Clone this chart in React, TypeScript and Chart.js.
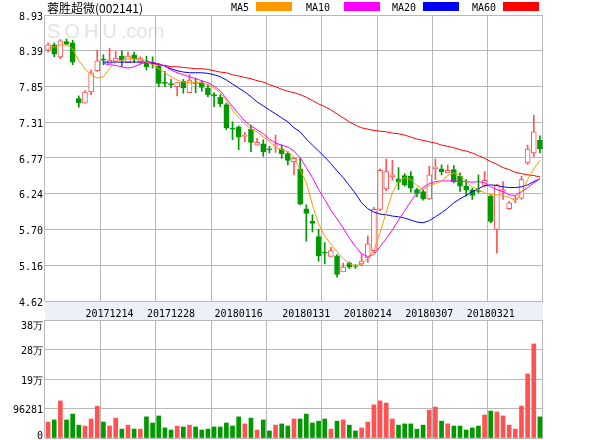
import React, { useEffect, useRef } from 'react';
import { Chart, registerables } from 'chart.js';

Chart.register(...registerables);

const TITLE = '蓉胜超微(002141)';
const WATERMARK = 'SOHU.com';

const DATES = [
  '20171130', '20171201', '20171204', '20171205', '20171206', '20171207', '20171208', '20171211', '20171212', '20171213',
  '20171214', '20171215', '20171218', '20171219', '20171220', '20171221', '20171222', '20171225', '20171226', '20171227',
  '20171228', '20180102', '20180103', '20180104', '20180105', '20180108', '20180109', '20180110', '20180111', '20180112',
  '20180115', '20180116', '20180117', '20180118', '20180119', '20180122', '20180123', '20180124', '20180125', '20180126',
  '20180129', '20180130', '20180131', '20180201', '20180202', '20180205', '20180206', '20180207', '20180208', '20180209',
  '20180212', '20180213', '20180214', '20180222', '20180223', '20180226', '20180227', '20180228', '20180301', '20180302',
  '20180305', '20180306', '20180307', '20180308', '20180309', '20180312', '20180313', '20180314', '20180315', '20180316',
  '20180319', '20180320', '20180321', '20180322', '20180323', '20180326', '20180327', '20180328', '20180329', '20180330',
  '20180402',
];

const DATE_TICKS = ['20171214', '20171228', '20180116', '20180131', '20180214', '20180307', '20180321'];

const OPEN = [
  8.40, 8.48, 8.30, 8.53, 8.51, 7.67, 7.60, 7.77, 8.09, 8.26,
  8.20, 8.23, 8.31, 8.21, 8.33, 8.22, 8.24, 8.21, 8.16, 7.92,
  7.89, 7.85, 7.93, 7.76, 7.91, 7.91, 7.83, 7.73, 7.69, 7.58,
  7.22, 7.24, 7.10, 7.21, 6.97, 6.99, 6.91, 6.96, 6.91, 6.84,
  6.72, 6.61, 6.01, 5.82, 5.59, 5.35, 5.29, 5.30, 5.06, 5.19,
  5.15, 5.18, 5.27, 5.38, 6.00, 6.31, 6.49, 6.46, 6.51, 6.50,
  6.30, 6.27, 6.16, 6.61, 6.61, 6.55, 6.60, 6.50, 6.35, 6.29,
  6.28, 6.36, 6.20, 5.70, 6.27, 6.01, 6.15, 6.17, 6.70, 6.85,
  7.04,
];
const HIGH = [
  8.51, 8.51, 8.56, 8.57, 8.55, 7.71, 7.79, 8.10, 8.40, 8.33,
  8.43, 8.38, 8.39, 8.37, 8.37, 8.30, 8.31, 8.30, 8.20, 8.08,
  7.96, 7.91, 7.96, 8.03, 7.98, 7.94, 7.88, 7.76, 7.73, 7.60,
  7.32, 7.26, 7.16, 7.27, 7.07, 7.05, 6.95, 7.12, 6.97, 6.87,
  6.78, 6.77, 6.07, 5.92, 5.70, 5.50, 5.43, 5.32, 5.19, 5.21,
  5.17, 5.32, 5.60, 6.03, 6.61, 6.76, 6.74, 6.63, 6.54, 6.57,
  6.32, 6.30, 6.65, 6.76, 6.67, 6.67, 6.66, 6.55, 6.45, 6.32,
  6.52, 6.57, 6.22, 6.38, 6.42, 6.12, 6.20, 6.50, 6.97, 7.42,
  7.11,
];
const LOW = [
  8.37, 8.30, 8.27, 8.48, 8.18, 7.54, 7.60, 7.73, 8.08, 8.18,
  8.20, 8.21, 8.16, 8.21, 8.21, 8.20, 8.10, 8.13, 7.85, 7.85,
  7.83, 7.71, 7.75, 7.76, 7.76, 7.78, 7.70, 7.55, 7.55, 7.20,
  7.05, 6.90, 7.02, 6.87, 6.97, 6.80, 6.85, 6.86, 6.77, 6.67,
  6.52, 6.07, 5.52, 5.66, 5.22, 5.18, 5.29, 4.98, 5.06, 5.11,
  5.11, 5.15, 5.20, 5.35, 5.98, 6.28, 6.44, 6.30, 6.35, 6.26,
  6.19, 6.14, 6.15, 6.45, 6.52, 6.55, 6.40, 6.27, 6.20, 6.15,
  6.25, 6.34, 5.80, 5.34, 6.15, 6.00, 6.10, 6.15, 6.68, 6.80,
  6.85,
];
const CLOSE = [
  8.48, 8.34, 8.54, 8.49, 8.22, 7.61, 7.77, 8.06, 8.24, 8.25,
  8.25, 8.28, 8.25, 8.31, 8.27, 8.28, 8.15, 8.20, 7.90, 7.90,
  7.88, 7.91, 7.83, 7.95, 7.90, 7.84, 7.73, 7.71, 7.59, 7.23,
  7.21, 7.09, 7.11, 7.01, 7.01, 6.87, 6.90, 6.97, 6.84, 6.74,
  6.77, 6.08, 5.94, 5.79, 5.30, 5.34, 5.38, 5.02, 5.13, 5.13,
  5.14, 5.22, 5.48, 6.00, 6.59, 6.57, 6.52, 6.41, 6.37, 6.32,
  6.24, 6.16, 6.52, 6.64, 6.57, 6.59, 6.42, 6.35, 6.29, 6.21,
  6.27, 6.44, 5.82, 6.37, 6.30, 6.10, 6.16, 6.45, 6.91, 7.17,
  6.91,
];
const VOLUME = [
  52000, 59000, 121000, 59000, 78000, 42000, 39000, 62000, 104000, 52000,
  39000, 65000, 29000, 42000, 29000, 29000, 69000, 49000, 72000, 33000,
  26000, 39000, 36000, 42000, 36000, 26000, 29000, 36000, 36000, 49000,
  39000, 69000, 46000, 65000, 26000, 59000, 23000, 42000, 46000, 39000,
  62000, 62000, 78000, 49000, 55000, 62000, 29000, 55000, 59000, 42000,
  23000, 33000, 52000, 108000, 121000, 114000, 62000, 42000, 46000, 46000,
  29000, 42000, 91000, 101000, 55000, 46000, 39000, 39000, 26000, 33000,
  39000, 75000, 88000, 85000, 72000, 42000, 29000, 104000, 209000, 307000,
  69000,
];

const MA5 = [
  8.43, 8.45, 8.48, 8.48, 8.42, 8.24, 8.12, 8.03, 7.98, 8.00,
  8.12, 8.22, 8.25, 8.27, 8.27, 8.25, 8.22, 8.18, 8.12, 8.06,
  8.00, 7.95, 7.92, 7.91, 7.91, 7.91, 7.88, 7.83, 7.76, 7.64,
  7.50, 7.38, 7.29, 7.21, 7.17, 7.09, 7.03, 6.94, 6.90, 6.87,
  6.79, 6.60, 6.40, 6.07, 5.78, 5.60, 5.48, 5.36, 5.26, 5.18,
  5.15, 5.18, 5.26, 5.39, 5.65, 5.96, 6.25, 6.43, 6.48, 6.45,
  6.36, 6.30, 6.36, 6.39, 6.43, 6.51, 6.55, 6.51, 6.42, 6.34,
  6.30, 6.25, 6.22, 6.22, 6.21, 6.18, 6.13, 6.25, 6.45, 6.61,
  6.74,
];
const MA10 = [
  null, null, null, null, null, null, null, null, null, 8.20,
  8.18, 8.17, 8.15, 8.13, 8.15, 8.19, 8.22, 8.22, 8.19, 8.16,
  8.10, 8.06, 8.03, 8.00, 7.97, 7.94, 7.91, 7.86, 7.79, 7.67,
  7.55, 7.44, 7.33, 7.26, 7.20, 7.14, 7.06, 7.00, 6.97, 6.94,
  6.88, 6.78, 6.63, 6.48, 6.30, 6.15, 5.99, 5.86, 5.72, 5.57,
  5.44, 5.33, 5.29, 5.32, 5.44, 5.56, 5.69, 5.84, 5.98, 6.12,
  6.25, 6.33, 6.39, 6.42, 6.43, 6.43, 6.43, 6.42, 6.42, 6.41,
  6.42, 6.40, 6.34, 6.30, 6.27, 6.22, 6.21, 6.27, 6.33, 6.40,
  6.46,
];
const MA20 = [
  null, null, null, null, null, null, null, null, null, 8.22,
  8.22, 8.22, 8.22, 8.22, 8.22, 8.22, 8.22, 8.21, 8.19, 8.16,
  8.12, 8.09, 8.07, 8.06, 8.06, 8.06, 8.05, 8.03, 8.00, 7.95,
  7.89, 7.83, 7.77, 7.70, 7.62, 7.56, 7.50, 7.44, 7.38, 7.32,
  7.23, 7.17, 7.06, 6.97, 6.88, 6.79, 6.69, 6.58, 6.48, 6.36,
  6.24, 6.10, 6.01, 5.96, 5.93, 5.92, 5.90, 5.89, 5.87, 5.84,
  5.81, 5.80, 5.83, 5.89, 5.95, 6.02, 6.10, 6.16, 6.21, 6.27,
  6.31, 6.36, 6.37, 6.36, 6.34, 6.33, 6.33, 6.34, 6.37, 6.42,
  6.46,
];
const MA60 = [
  null, null, null, null, null, null, null, null, null, null,
  null, null, null, null, null, 8.25, 8.22, 8.20, 8.18, 8.17,
  8.15, 8.15, 8.14, 8.13, 8.12, 8.12, 8.11, 8.09, 8.07, 8.06,
  8.03, 8.01, 7.99, 7.97, 7.94, 7.92, 7.88, 7.85, 7.81, 7.78,
  7.76, 7.73, 7.69, 7.64, 7.59, 7.55, 7.50, 7.44, 7.38, 7.32,
  7.27, 7.23, 7.21, 7.19, 7.18, 7.17, 7.15, 7.14, 7.12, 7.09,
  7.06, 7.04, 7.02, 7.00, 6.97, 6.95, 6.93, 6.90, 6.88, 6.85,
  6.81, 6.77, 6.72, 6.68, 6.63, 6.60, 6.56, 6.54, 6.52, 6.51,
  6.49,
];

const PRICE_MIN = 4.62;
const PRICE_MAX = 8.93;
const PRICE_TICK_LABELS = ['4.62', '5.16', '5.70', '6.24', '6.77', '7.31', '7.85', '8.39', '8.93'];
const VOLUME_MAX = 385124;
const VOLUME_TICK_LABELS = ['0', '96281', '19万', '28万', '38万'];
const GRID_SECTIONS = 8;

const MA_NAMES = ['MA5', 'MA10', 'MA20', 'MA60'];
const MA_COLORS = ['#ff9900', '#ff00ff', '#0000ff', '#ff0000'];
const MA_SERIES = [MA5, MA10, MA20, MA60];

const UP_COLOR = '#ff5252';
const DOWN_COLOR = '#009900';
const GRID_COLOR = '#b8b8b8';
const BAND_COLOR = '#eef0f7';
const AXIS_FONT = { family: "'DejaVu Sans Mono', 'Liberation Mono', monospace", size: 10 };

const LEGEND_POS = [
  { text: 231, swatch: 256 },
  { text: 306, swatch: 344 },
  { text: 392, swatch: 423 },
  { text: 472, swatch: 503 },
];

const isUp = CLOSE.map((c, i) => c >= OPEN[i]);

function gridAxis() {
  return {
    type: 'linear' as const,
    position: 'bottom' as const,
    min: 0,
    max: GRID_SECTIONS,
    ticks: { display: false, stepSize: 1 },
    grid: { color: GRID_COLOR, drawTicks: false, lineWidth: 1 },
    border: { display: false },
    afterFit: (s: any) => { s.height = 0; },
  };
}

function fixYAxis(s: any) {
  s.width = 45;
  s.paddingTop = 0;
  s.paddingBottom = 0;
}

const bandPlugin = {
  id: 'dateBand',
  beforeDraw(chart: any) {
    const { ctx, chartArea } = chart;
    ctx.save();
    ctx.fillStyle = BAND_COLOR;
    ctx.fillRect(chartArea.left, chartArea.bottom, chartArea.right - chartArea.left, 19);
    ctx.restore();
  },
};

export default function App() {
  const priceRef = useRef<HTMLCanvasElement | null>(null);
  const volRef = useRef<HTMLCanvasElement | null>(null);

  useEffect(() => {
    const lineSets = MA_SERIES.map((d, k) => ({
      type: 'line' as const,
      label: MA_NAMES[k],
      data: d,
      borderColor: MA_COLORS[k],
      backgroundColor: MA_COLORS[k],
      borderWidth: 1,
      pointRadius: 0,
      tension: 0,
      spanGaps: false,
      order: k,
      xAxisID: 'x',
      yAxisID: 'y',
    }));

    const price = new Chart(priceRef.current as HTMLCanvasElement, {
      type: 'bar',
      data: {
        labels: DATES,
        datasets: [
          ...lineSets,
          {
            type: 'bar',
            label: 'body',
            data: OPEN.map((o, i) => [o, CLOSE[i]]),
            backgroundColor: isUp.map((u) => (u ? '#ffffff' : DOWN_COLOR)),
            borderColor: isUp.map((u) => (u ? UP_COLOR : DOWN_COLOR)),
            borderWidth: 1,
            borderSkipped: false,
            barThickness: 5,
            minBarLength: 1,
            grouped: false,
            order: 10,
            xAxisID: 'x',
            yAxisID: 'y',
          },
          {
            type: 'bar',
            label: 'wick',
            data: LOW.map((l, i) => [l, HIGH[i]]),
            backgroundColor: isUp.map((u) => (u ? UP_COLOR : DOWN_COLOR)),
            borderWidth: 0,
            barThickness: 1,
            minBarLength: 1,
            grouped: false,
            order: 11,
            xAxisID: 'x',
            yAxisID: 'y',
          },
        ] as any,
      },
      options: {
        animation: false,
        responsive: false,
        maintainAspectRatio: false,
        layout: { padding: { top: 15, right: 57, left: 0, bottom: 0 } },
        plugins: { legend: { display: false }, tooltip: { enabled: false } },
        scales: {
          x: {
            type: 'category',
            offset: true,
            grid: { display: false },
            border: { display: false },
            ticks: { autoSkip: false, maxRotation: 0, minRotation: 0, font: AXIS_FONT, color: '#000', padding: -1 },
            afterBuildTicks: (s: any) => {
              s.ticks = s.ticks.filter((t: any) => DATE_TICKS.includes(DATES[t.value]));
            },
            afterFit: (s: any) => { s.height = 19; },
          },
          xg: gridAxis(),
          y: {
            type: 'linear',
            min: PRICE_MIN,
            max: PRICE_MAX,
            afterBuildTicks: (s: any) => {
              const n = PRICE_TICK_LABELS.length;
              s.ticks = PRICE_TICK_LABELS.map((_, i) => ({ value: PRICE_MIN + (i * (PRICE_MAX - PRICE_MIN)) / (n - 1) }));
            },
            ticks: {
              callback: (_v: any, i: number) => PRICE_TICK_LABELS[i],
              font: AXIS_FONT,
              color: '#000',
              padding: 2,
              labelOffset: 2,
            },
            grid: { color: GRID_COLOR, drawTicks: false },
            border: { display: false },
            afterFit: fixYAxis,
          },
        } as any,
      },
      plugins: [bandPlugin],
    });

    const vol = new Chart(volRef.current as HTMLCanvasElement, {
      type: 'bar',
      data: {
        labels: DATES,
        datasets: [
          {
            label: 'volume',
            data: VOLUME,
            backgroundColor: isUp.map((u) => (u ? UP_COLOR : DOWN_COLOR)),
            borderWidth: 0,
            barThickness: 4,
            xAxisID: 'x',
            yAxisID: 'y',
          },
        ],
      },
      options: {
        animation: false,
        responsive: false,
        maintainAspectRatio: false,
        layout: { padding: { top: 18, right: 57, left: 0, bottom: 2 } },
        plugins: { legend: { display: false }, tooltip: { enabled: false } },
        scales: {
          x: { type: 'category', offset: true, display: false },
          xg: gridAxis(),
          y: {
            type: 'linear',
            min: 0,
            max: VOLUME_MAX,
            afterBuildTicks: (s: any) => {
              const n = VOLUME_TICK_LABELS.length;
              s.ticks = VOLUME_TICK_LABELS.map((_, i) => ({ value: (i * VOLUME_MAX) / (n - 1) }));
            },
            ticks: {
              callback: (_v: any, i: number) => {
                const last = VOLUME_TICK_LABELS.length - 1;
                if (i === 0) return [VOLUME_TICK_LABELS[0], ''];
                if (i === last) return ['', VOLUME_TICK_LABELS[last]];
                return VOLUME_TICK_LABELS[i];
              },
              font: { ...AXIS_FONT, lineHeight: 0.8 },
              color: '#000',
              padding: 2,
              labelOffset: 2,
            },
            grid: { color: GRID_COLOR, drawTicks: false },
            border: { display: false },
            afterFit: fixYAxis,
          },
        } as any,
      },
    });

    return () => {
      price.destroy();
      vol.destroy();
    };
  }, []);

  const mono = "'DejaVu Sans Mono', 'Liberation Mono', monospace";

  return (
    <div style={{ position: 'fixed', left: 0, top: 0, width: 600, height: 440, background: '#fff', overflow: 'hidden' }}>
      <div
        style={{
          position: 'absolute', left: 47, top: 21, fontFamily: "'Liberation Sans', Arial, sans-serif",
          fontSize: 20, lineHeight: '20px', color: '#e4e4e4', whiteSpace: 'nowrap',
        }}
      >
        <span style={{ letterSpacing: 4 }}>{WATERMARK.slice(0, 4)}</span>
        <span>{WATERMARK.slice(4)}</span>
      </div>
      <canvas ref={priceRef} width={600} height={320} style={{ position: 'absolute', left: 0, top: 0, width: 600, height: 320 }} />
      <canvas ref={volRef} width={600} height={138} style={{ position: 'absolute', left: 0, top: 302, width: 600, height: 138 }} />
      <div
        style={{
          position: 'absolute', left: 47, top: 1, fontFamily: "'Noto Sans CJK SC', sans-serif",
          fontSize: 12, lineHeight: '14px', color: '#000', whiteSpace: 'nowrap',
        }}
      >
        {TITLE}
      </div>
      {MA_NAMES.map((name, k) => (
        <React.Fragment key={name}>
          <div
            style={{
              position: 'absolute', left: LEGEND_POS[k].text, top: 2, fontFamily: mono,
              fontSize: 10, lineHeight: '12px', color: '#000', whiteSpace: 'nowrap',
            }}
          >
            {name}
          </div>
          <div
            style={{
              position: 'absolute', left: LEGEND_POS[k].swatch, top: 2, width: 36, height: 9,
              background: MA_COLORS[k],
            }}
          />
        </React.Fragment>
      ))}
    </div>
  );
}
